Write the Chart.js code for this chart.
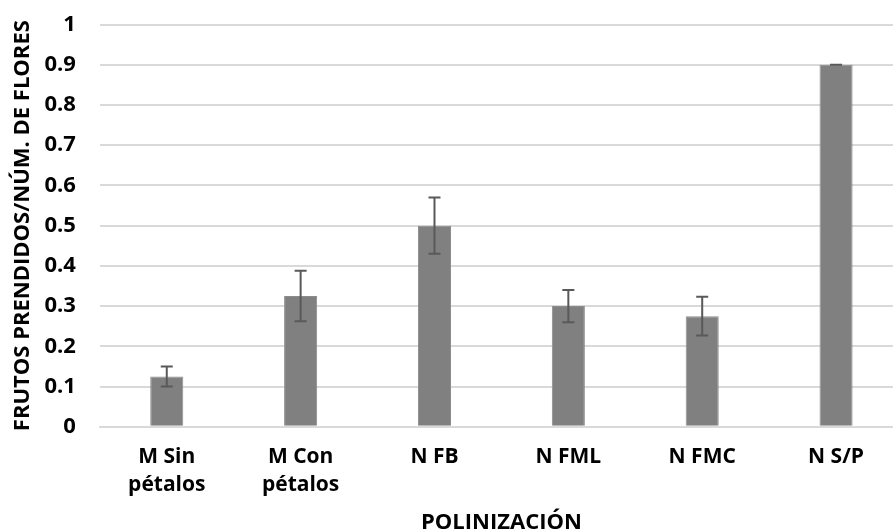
<!DOCTYPE html>
<html>
<head>
<meta charset="utf-8">
<script src="https://cdn.jsdelivr.net/npm/chart.js@4/dist/chart.umd.min.js"></script>
<style>
    html, body { margin: 0; padding: 0; background: #fff; overflow: hidden; }
    #wrap { width: 903px; height: 531px; }
</style>
</head>
<body>
<div id="wrap"><canvas id="chart" width="903" height="531"></canvas></div>
<script>
// data
const categories = [["M Sin", "pétalos"], ["M Con", "pétalos"], "N FB", "N FML", "N FMC", "N S/P"];
const values = [0.125, 0.325, 0.5, 0.3, 0.275, 0.9];
const errors = [0.025, 0.063, 0.07, 0.04, 0.048, 0];
const yTicks = [0, 0.1, 0.2, 0.3, 0.4, 0.5, 0.6, 0.7, 0.8, 0.9, 1];

const FONT = "'Open Sans', Lato, sans-serif";

// draw the error bars on top of the bars
const errorBars = {
    id: "errorBars",
    afterDatasetsDraw(chart) {
        const ctx = chart.ctx;
        const y = chart.scales.y;
        const meta = chart.getDatasetMeta(0);
        ctx.save();
        ctx.strokeStyle = "#595959";
        ctx.lineWidth = 2;
        meta.data.forEach((bar, i) => {
            const top = y.getPixelForValue(values[i] + errors[i]);
            const bottom = y.getPixelForValue(values[i] - errors[i]);
            const cap = 6;
            ctx.beginPath();
            ctx.moveTo(bar.x, top);
            ctx.lineTo(bar.x, bottom);
            ctx.moveTo(bar.x - cap, top);
            ctx.lineTo(bar.x + cap, top);
            ctx.moveTo(bar.x - cap, bottom);
            ctx.lineTo(bar.x + cap, bottom);
            ctx.stroke();
        });
        ctx.restore();
    }
};

new Chart(document.getElementById("chart"), {
    type: "bar",
    data: {
        labels: categories,
        datasets: [{
            data: values,
            backgroundColor: "#808080",
            borderColor: "#8c8c8c",
            borderWidth: 1,
            categoryPercentage: 1,
            barPercentage: 0.247
        }]
    },
    options: {
        responsive: false,
        animation: false,
        layout: { padding: { top: 0, left: 0, right: 0, bottom: -5 } },
        plugins: {
            legend: { display: false },
            tooltip: { enabled: false }
        },
        scales: {
            x: {
                grid: { display: false, drawTicks: false },
                border: { color: "#d9d9d9", width: 2 },
                ticks: {
                    color: "#000",
                    padding: 16,
                    maxRotation: 0,
                    font: { family: FONT, size: 21, weight: "bold", lineHeight: 1.33 }
                },
                title: {
                    display: true,
                    text: "POLINIZACIÓN",
                    color: "#000",
                    padding: { top: -5, bottom: 0 },
                    font: { family: FONT, size: 22, weight: "bold" }
                }
            },
            y: {
                min: 0,
                max: 1,
                afterBuildTicks(axis) {
                    axis.ticks = yTicks.map(v => ({ value: v }));
                },
                grid: { color: "#d9d9d9", lineWidth: 2, drawTicks: false },
                border: { display: false },
                ticks: {
                    color: "#000",
                    padding: 24,
                    callback: v => String(v),
                    // tiny lineHeight keeps the top label from adding extra room above the plot
                    font: { family: FONT, size: 22, weight: "bold", lineHeight: 0.05 }
                },
                title: {
                    display: true,
                    text: "FRUTOS PRENDIDOS/NÚM. DE FLORES",
                    color: "#000",
                    padding: { top: 10, bottom: -16 },
                    font: { family: FONT, size: 22, weight: "bold" }
                }
            }
        }
    },
    plugins: [errorBars]
});
</script>
</body>
</html>
